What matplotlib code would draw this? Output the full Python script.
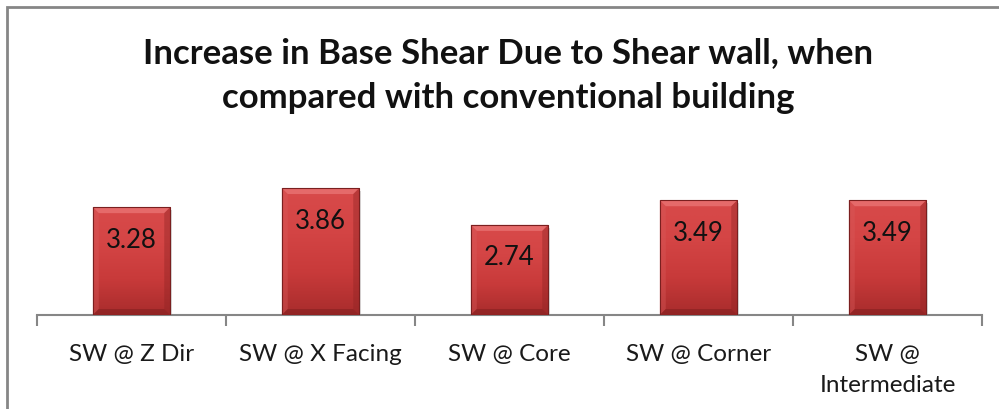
import numpy as np
import matplotlib
matplotlib.use("Agg")
import matplotlib.pyplot as plt
from matplotlib.patches import Rectangle, Polygon
from matplotlib.colors import LinearSegmentedColormap
from matplotlib.transforms import IdentityTransform

categories = ["SW @ Z Dir", "SW @ X Facing", "SW @ Core", "SW @ Corner", "SW @\nIntermediate"]
values = [3.28, 3.86, 2.74, 3.49, 3.49]
title = "Increase in Base Shear Due to Shear wall, when\ncompared with conventional building"

FONT = ["Lato", "DejaVu Sans"]
plt.rcParams["font.family"] = FONT

W, H, DPI = 999, 410, 100
fig = plt.figure(figsize=(W / DPI, H / DPI), dpi=DPI)
fig.patch.set_facecolor("white")

# outer chart border (extends beyond right/bottom edges)
fig.patches.append(Rectangle((7 / W, -0.1), 1.2, 1 - 8 / H + 0.1, transform=fig.transFigure,
                             fill=False, edgecolor="#868686", linewidth=2, zorder=0))

ax = fig.add_axes([37 / W, (H - 316) / H, 945 / W, 148 / H])
ax.set_xlim(-0.5, len(categories) - 0.5)
ax.set_ylim(0, 4.5)
ax.patch.set_alpha(0)
for s in ["top", "right", "left"]:
    ax.spines[s].set_visible(False)
ax.spines["bottom"].set_color("#868686")
ax.spines["bottom"].set_linewidth(1.5)
ax.set_yticks([])

x = np.arange(len(categories))
ax.set_xticks(np.arange(-0.5, len(categories), 1.0))
ax.set_xticklabels([])
ax.tick_params(axis="x", which="major", direction="out", length=8, width=1.5, color="#868686")
ax.set_xticks(x, minor=True)
ax.set_xticklabels(categories, minor=True, fontsize=17.5, color="#1a1a1a", linespacing=1.6)
ax.tick_params(axis="x", which="minor", length=0, pad=20)
for lbl in ax.get_xticklabels(minor=True):
    lbl.set_verticalalignment("top")

bars = ax.bar(x, values, width=0.41, color="#c83c3c", edgecolor="#7a1a1a", linewidth=0.6, zorder=3)

cmap = LinearSegmentedColormap.from_list("redg", ["#a82c2c", "#c83a3a", "#d44545", "#d84a4a"])
grad = np.linspace(0, 1, 256).reshape(-1, 1)
for b in bars:
    x0, y0 = b.get_x(), b.get_y()
    w, h = b.get_width(), b.get_height()
    im = ax.imshow(grad, extent=(x0, x0 + w, y0, y0 + h), origin="lower", cmap=cmap,
                   aspect="auto", zorder=3.5, interpolation="bicubic")
    im.set_clip_path(b)
    # shadow
    ax.add_patch(Rectangle((x0, y0), w, h, transform=ax.transData + matplotlib.transforms.ScaledTranslation(2 / DPI, -3 / DPI, fig.dpi_scale_trans),
                           facecolor="#000000", alpha=0.15, edgecolor="none", zorder=2))

fig.canvas.draw()
bev = 6
for b in bars:
    (px0, py0), (px1, py1) = ax.transData.transform([(b.get_x(), 0), (b.get_x() + b.get_width(), b.get_height())])
    # top bevel (lighter)
    ax.add_patch(Polygon([(px0, py1), (px1, py1), (px1 - bev, py1 - bev), (px0 + bev, py1 - bev)],
                         transform=IdentityTransform(), facecolor="#e87070", edgecolor="none", alpha=0.85, zorder=4))
    # left bevel
    ax.add_patch(Polygon([(px0, py1), (px0 + bev, py1 - bev), (px0 + bev, py0 + bev), (px0, py0)],
                         transform=IdentityTransform(), facecolor="#d85a5a", edgecolor="none", alpha=0.4, zorder=4))
    # right bevel (darker)
    ax.add_patch(Polygon([(px1, py1), (px1 - bev, py1 - bev), (px1 - bev, py0 + bev), (px1, py0)],
                         transform=IdentityTransform(), facecolor="#8e2323", edgecolor="none", alpha=0.4, zorder=4))
    # bottom bevel (darker)
    ax.add_patch(Polygon([(px0, py0), (px0 + bev, py0 + bev), (px1 - bev, py0 + bev), (px1, py0)],
                         transform=IdentityTransform(), facecolor="#7e1e1e", edgecolor="none", alpha=0.5, zorder=4))
    ax.add_patch(Rectangle((b.get_x(), 0), b.get_width(), b.get_height(), facecolor="none",
                           edgecolor="#7a1f1f", linewidth=0.8, zorder=4.5))

for xi, v in zip(x, values):
    ax.annotate(f"{v:.2f}", (xi, v), xytext=(0, -32 * 72 / DPI), textcoords="offset points",
                ha="center", va="center", fontsize=18.5, color="#111111", zorder=6)

fig.text(508 / W, 1 - 76 / H, title, ha="center", va="center", fontsize=25, fontweight="bold",
         color="#111111", linespacing=1.5, family=FONT)

fig.savefig("out.png", dpi=DPI)
